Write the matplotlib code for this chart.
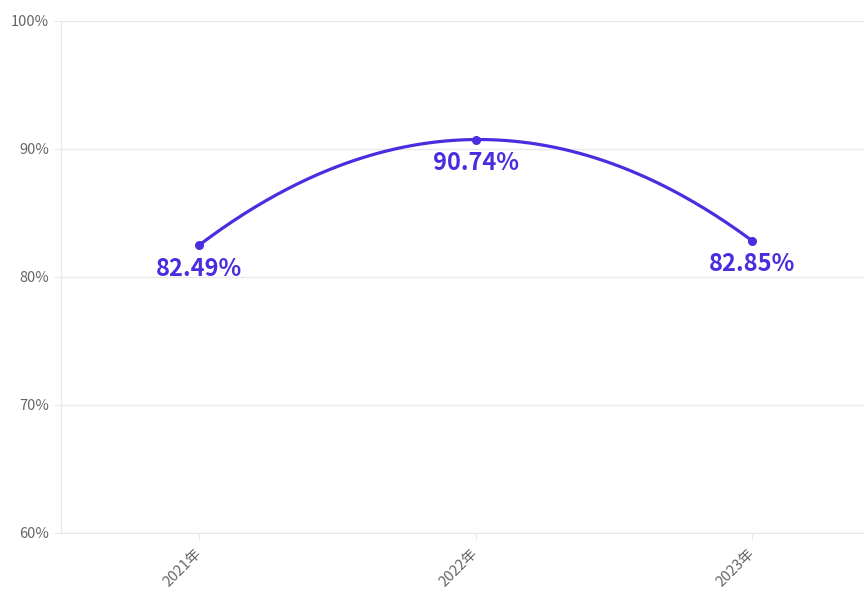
import numpy as np
import matplotlib.pyplot as plt
import matplotlib.transforms as mtransforms

plt.rcParams['font.family'] = ['Noto Sans CJK SC', 'DejaVu Sans']

years = ['2021年', '2022年', '2023年']
rates = [82.49, 90.74, 82.85]
yticks = [60, 70, 80, 90, 100]

color = '#4b2de0'
grid_c = '#e9e9e9'

fig = plt.figure(figsize=(8.64, 6.03), dpi=100)
ax = fig.add_axes([61 / 864, 1 - 533 / 603, 829 / 864, (533 - 21) / 603])

x = np.arange(len(years))
# smooth line through the points
coef = np.polyfit(x, rates, 2)
xs = np.linspace(x[0], x[-1], 200)
ax.plot(xs, np.polyval(coef, xs), color=color, lw=2.3, solid_capstyle='round', zorder=3)
ax.scatter(x, rates, s=30, color=color, zorder=4)

for xi, v in zip(x, rates):
    ax.annotate(f'{v:.2f}%', (xi, v), xytext=(0, -17), textcoords='offset points',
                ha='center', va='center', fontsize=17, fontweight='bold', color=color)

ax.set_xlim(-0.5, 2.5)
ax.set_ylim(60, 100)
ax.set_yticks(yticks)
ax.set_yticklabels([f'{t}%' for t in yticks])
ax.set_xticks(x)
ax.set_xticklabels(years, rotation=45, ha='right', va='center', rotation_mode='anchor')
shift = mtransforms.ScaledTranslation(4 / 100, 0, fig.dpi_scale_trans)
for lab in ax.get_xticklabels():
    lab.set_transform(lab.get_transform() + shift)

ax.grid(axis='y', color=grid_c, lw=1)
ax.set_axisbelow(True)
for s in ['top', 'right']:
    ax.spines[s].set_visible(False)
for s in ['left', 'bottom']:
    ax.spines[s].set_color(grid_c)
ax.tick_params(axis='both', colors=grid_c, labelcolor='#666666', labelsize=10.5, length=5)
ax.tick_params(axis='x', pad=8)

fig.savefig('out.png', dpi=100)
